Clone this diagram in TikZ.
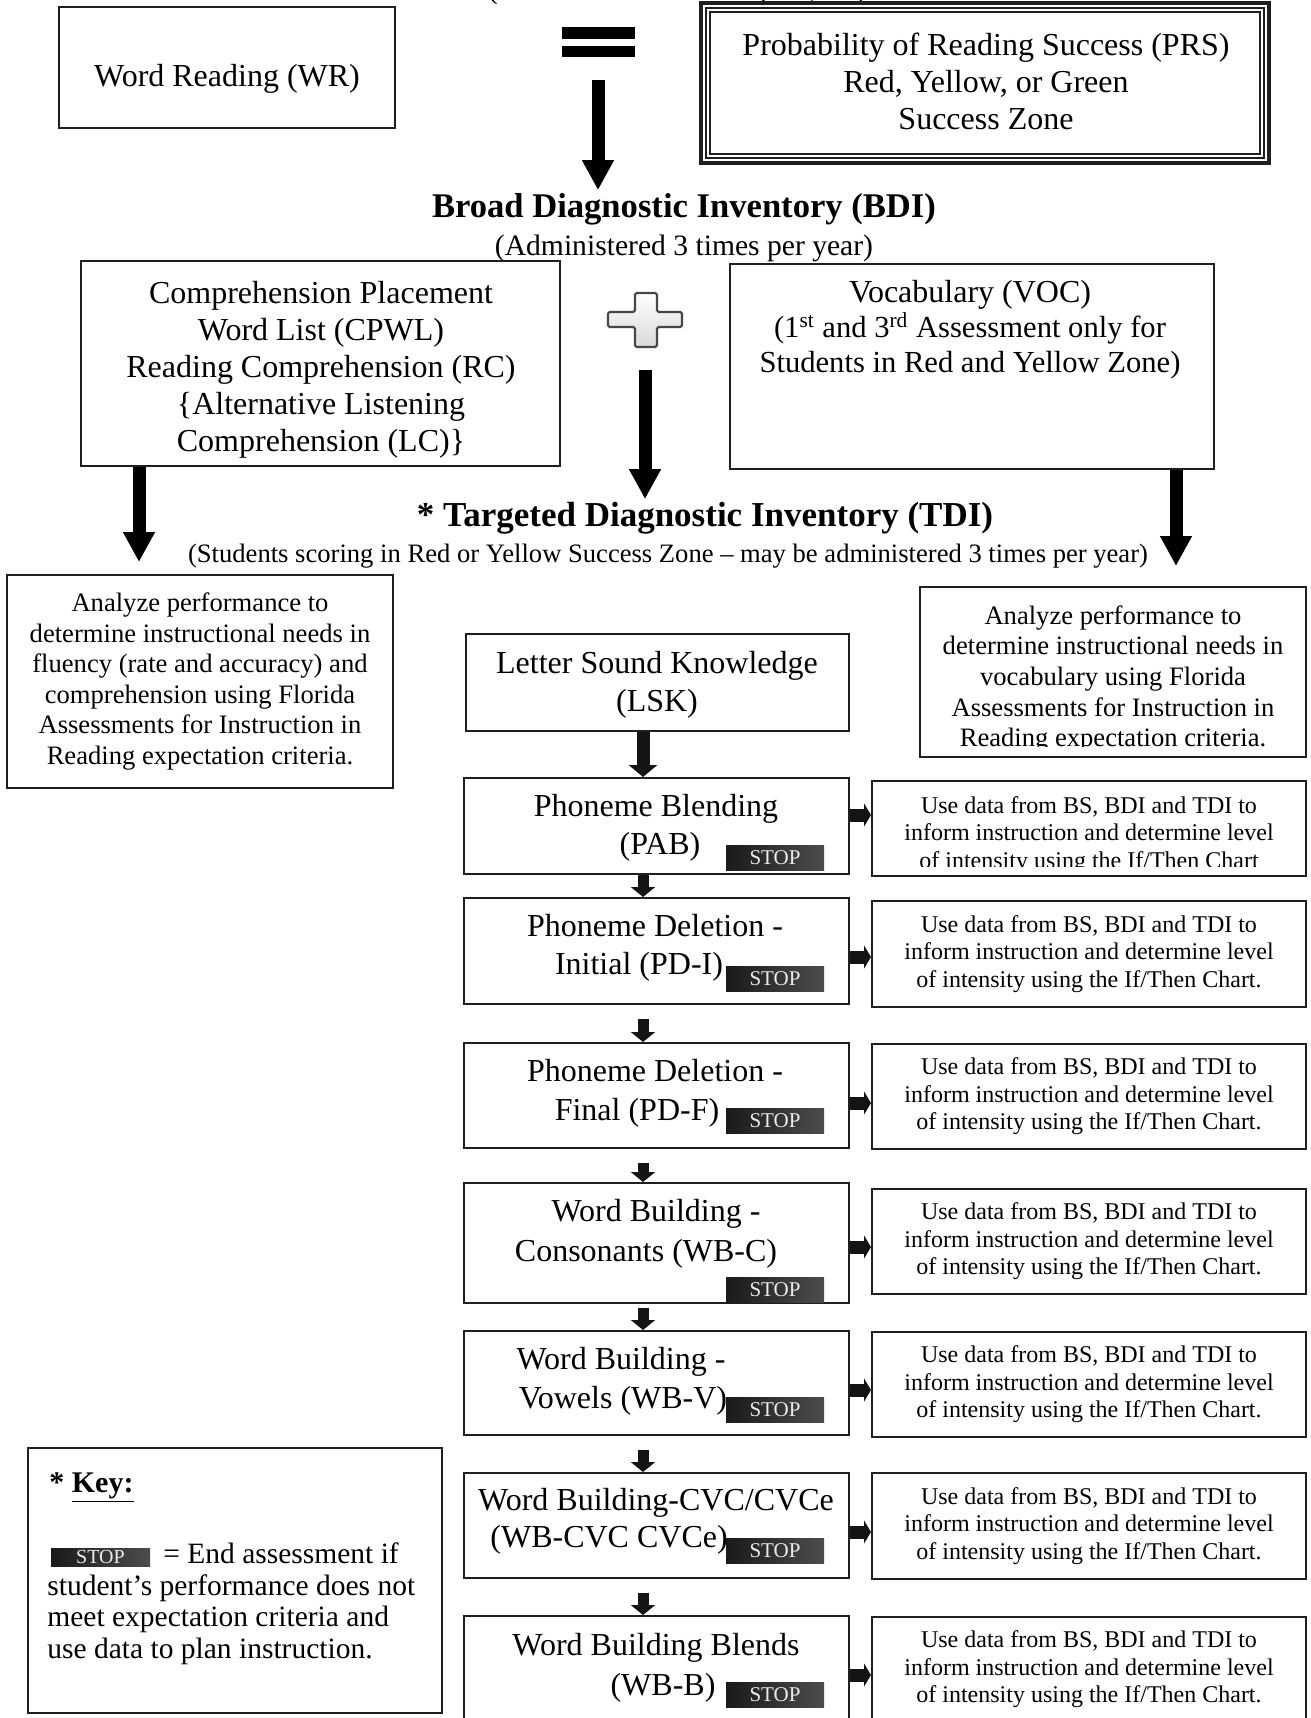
\documentclass[tikz,border=0pt]{standalone}
\usepackage{fontspec}
\setmainfont{Liberation Serif}
\usetikzlibrary{arrows.meta,calc}

\newcommand\usedata{Use data from BS, BDI and TDI to\\inform instruction and determine level\\of intensity using the If/Then Chart.}

\begin{document}
\begin{tikzpicture}[x=0.5pt,y=-0.5pt,
  frame/.style={draw=black!88, line width=1pt, inner sep=0pt, fill=white},
  txt/.style={inner sep=0pt, text height=.95em, text depth=0pt},
  mainfont/.style={font=\fontsize{16}{18.5}\selectfont},
  sidefont/.style={font=\fontsize{12}{13.7}\selectfont},
  anafont/.style={font=\fontsize{13.3}{15.3}\selectfont},
  stopbox/.style={inner sep=0pt, minimum width=49pt, minimum height=12.5pt,
    left color=black!90, right color=black!70, text=white!92!black,
    font=\fontsize{10.5}{11}\selectfont},
  stepbox/.style={frame, minimum width=192.5pt},
  sidebox/.style={frame, minimum width=217pt, align=center, sidefont},
  bigarrow/.style={draw=black, line width=6.5pt, -{Triangle[width=15pt,length=15pt]}},
  smallarrow/.style={draw=black!92, line width=5.5pt, -{Triangle[width=12pt,length=5pt]}},
  harrow/.style={draw=black!92, line width=6.5pt, -{Triangle[width=11.5pt,length=3.5pt]}},
]
\fill[white] (0,0) rectangle (1311,1718);
\useasboundingbox (0,0) rectangle (1311,1718);

% line of the preceding heading, cut by the page edge
\node[anchor=base, inner sep=0pt, font=\fontsize{14.8}{16}\selectfont] (prevsub) at (677,-1) {(Administered 3 times per year)};

% ---------- top row ----------
\node[frame, minimum width=168pt, minimum height=60.5pt] (wr) at (227,67.5) {};
\node[txt, mainfont] (wrtext) at (227,77) {Word Reading (WR)};

% equals sign
\fill[black] (562,27) rectangle (635,39);
\fill[black] (562,46) rectangle (635,57);
\coordinate (eqfoot) at (598,80);

% triple-ruled box
\node[frame, line width=2pt, minimum width=284pt, minimum height=80pt] (prs) at (985,83) {};
\draw[black!88, line width=0.6pt] ($(prs.north west)+(7,7)$) rectangle ($(prs.south east)+(-7,-7)$);
\draw[black!88, line width=0.6pt] ($(prs.north west)+(11,11)$) rectangle ($(prs.south east)+(-11,-11)$);
\node[mainfont, align=center, inner sep=0pt] (prstext) at (986,81.5) {Probability of Reading Success (PRS)\\Red, Yellow, or Green\\Success Zone};

% ---------- BDI ----------
\node[txt, font=\bfseries\fontsize{17.3}{19}\selectfont] (bdi) at (684,208) {Broad Diagnostic Inventory (BDI)};
\node[txt, font=\fontsize{14.8}{16}\selectfont] (bdisub) at (684,246) {(Administered 3 times per year)};
\draw[bigarrow, shorten >=4pt] (eqfoot) -- (eqfoot |- bdi.north);

\node[frame, minimum width=239.5pt, minimum height=102.5pt] (cpwl) at (320.5,363.5) {};
\node[mainfont, align=center, inner sep=0pt] (cpwltext) at (321,370)
  {Comprehension Placement\\Word List (CPWL)\\Reading Comprehension (RC)\\\{Alternative Listening\\Comprehension (LC)\}};

\node[frame, minimum width=242pt, minimum height=102.5pt] (voc) at (972,366.5) {};
\node[align=center, inner sep=0pt, font=\fontsize{15.3}{17.5}\selectfont] (voctext) at (970,330)
  {{\fontsize{16}{17.5}\selectfont Vocabulary (VOC)}\\(1\textsuperscript{st} and 3\textsuperscript{rd} Assessment only for\\Students in Red and Yellow Zone)};

% plus sign
\draw[black!72, line width=1.1pt, rounded corners=0.8pt, top color=white, bottom color=black!15]
  (635,293) -- (657,293) -- (657,312) -- (682,312) -- (682,327) -- (657,327) -- (657,347)
  -- (635,347) -- (635,327) -- (608,327) -- (608,312) -- (635,312) -- cycle;
\node[inner sep=0pt, minimum width=37pt, minimum height=27pt] (plus) at (645,320) {};

% ---------- TDI ----------
\node[txt, font=\bfseries\fontsize{17.5}{19}\selectfont] (tdi) at (705,517) {* Targeted Diagnostic Inventory (TDI)};
\node[txt, font=\fontsize{13.3}{15}\selectfont] (tdisub) at (668,553) {(Students scoring in Red or Yellow Success Zone – may be administered 3 times per year)};
\draw[bigarrow, shorten <=11.5pt, shorten >=4pt] (plus.south) -- (plus.south |- tdi.north);

% analysis boxes
\node[frame, minimum width=193pt, minimum height=106.5pt, align=center, anafont] (ana1) at (200,681.5)
  {Analyze performance to\\determine instructional needs in\\fluency (rate and accuracy) and\\comprehension using Florida\\Assessments for Instruction in\\Reading expectation criteria.};
\node[frame, minimum width=193pt, minimum height=85pt] (ana2) at (1113,672) {};
\begin{scope}
  \clip (921,588) rectangle (1305,746);
  \node[align=center, inner sep=0pt, anafont] (ana2text) at (1113,679)
    {Analyze performance to\\determine instructional needs in\\vocabulary using Florida\\Assessments for Instruction in\\Reading expectation criteria.};
\end{scope}

\draw[bigarrow, shorten >=6pt] ($(cpwl.south west)+(59,0)$) -- ($(ana1.north west)+(133,0)$);
\draw[bigarrow, shorten >=10pt] ($(voc.south west)+(447,0)$) -- ($(ana2.north west)+(257,0)$);

% ---------- TDI task column ----------
\node[stepbox, minimum width=191.5pt, minimum height=48.5pt] (lsk) at (657.5,682.5) {};
\node[stepbox, minimum height=48pt] (pab) at (656.5,826) {};
\node[stepbox, minimum height=53pt] (pdi) at (656.5,951) {};
\node[stepbox, minimum height=52.5pt] (pdf) at (656.5,1095.5) {};
\node[stepbox, minimum height=60pt] (wbc) at (656.5,1243) {};
\node[stepbox, minimum height=52pt] (wbv) at (656.5,1383) {};
\node[stepbox, minimum height=52.5pt] (cvc) at (656.5,1525.5) {};
\node[stepbox, minimum height=53pt] (wbb) at (656.5,1669) {};

\node[txt, mainfont] (lsk1) at (657,664) {Letter Sound Knowledge};
\node[txt, mainfont] (lsk2) at (657,702) {(LSK)};
\node[txt, mainfont] (pab1) at (656,807) {Phoneme Blending};
\node[txt, mainfont] (pab2) at (660,845) {(PAB)};
\node[txt, mainfont] (pdi1) at (655,927) {Phoneme Deletion -};
\node[txt, mainfont] (pdi2) at (639,965) {Initial (PD-I)};
\node[txt, mainfont] (pdf1) at (655,1072) {Phoneme Deletion -};
\node[txt, mainfont] (pdf2) at (637,1111) {Final (PD-F)};
\node[txt, mainfont] (wbc1) at (656,1212) {Word Building -};
\node[txt, mainfont] (wbc2) at (646,1252) {Consonants (WB-C)};
\node[txt, mainfont] (wbv1) at (621,1360) {Word Building -};
\node[txt, mainfont] (wbv2) at (623,1399) {Vowels (WB-V)};
\node[txt, mainfont] (cvc1) at (656,1501) {Word Building-CVC/CVCe};
\node[txt, mainfont, anchor=west] (cvc2) at (490,1538) {(WB-CVC CVCe)};
\node[txt, mainfont] (wbb1) at (656,1646) {Word Building Blends};
\node[txt, mainfont] (wbb2) at (663,1686) {(WB-B)};

\node[stopbox] (stop1) at (775,857.5) {STOP};
\node[stopbox] (stop2) at (775,978.5) {STOP};
\node[stopbox] (stop3) at (775,1121) {STOP};
\node[stopbox] (stop4) at (775,1290) {STOP};
\node[stopbox] (stop5) at (775,1409.5) {STOP};
\node[stopbox] (stop6) at (775,1551) {STOP};
\node[stopbox] (stop7) at (775,1694.5) {STOP};

% side boxes
\node[sidebox, minimum height=47.5pt] (s1) at (1089,828.5) {};
\begin{scope}
  \clip (873,782) rectangle (1305,866);
  \node[align=center, inner sep=0pt, sidefont] (s1text) at (1089,835)
    {Use data from BS, BDI and TDI to\\inform instruction and determine level\\of intensity using the If/Then Chart};
\end{scope}
\node[sidebox, minimum height=53pt] (s2) at (1089,954) {\usedata};
\node[sidebox, minimum height=52.5pt] (s3) at (1089,1096.5) {\usedata};
\node[sidebox, minimum height=52.5pt] (s4) at (1089,1241.5) {\usedata};
\node[sidebox, minimum height=52.5pt] (s5) at (1089,1384.5) {\usedata};
\node[sidebox, minimum height=53pt] (s6) at (1089,1526) {\usedata};
\node[sidebox, minimum height=52.5pt] (s7) at (1089,1669.5) {\usedata};

% connectors in the task column
\draw[smallarrow, line width=6.5pt, -{Triangle[width=14pt,length=6pt]}] ($(lsk.south west)+(178,0)$) -- ($(pab.north west)+(180,0)$);
\draw[smallarrow] ($(pab.south west)+(180,0)$) -- ($(pdi.north west)+(180,0)$);
\draw[smallarrow, shorten <=7pt] ($(pdi.south west)+(180,0)$) -- ($(pdf.north west)+(180,0)$);
\draw[smallarrow, shorten <=7pt] ($(pdf.south west)+(180,0)$) -- ($(wbc.north west)+(180,0)$);
\draw[smallarrow, shorten <=2pt] ($(wbc.south west)+(180,0)$) -- ($(wbv.north west)+(180,0)$);
\draw[smallarrow, shorten <=7pt] ($(wbv.south west)+(180,0)$) -- ($(cvc.north west)+(180,0)$);
\draw[smallarrow, shorten <=7pt] ($(cvc.south west)+(180,0)$) -- ($(wbb.north west)+(180,0)$);

\draw[harrow] (pab.east |- 0,815) -- (s1.west |- 0,815);
\draw[harrow] (pdi.east |- 0,957) -- (s2.west |- 0,957);
\draw[harrow] (pdf.east |- 0,1103) -- (s3.west |- 0,1103);
\draw[harrow] (wbc.east |- 0,1247) -- (s4.west |- 0,1247);
\draw[harrow] (wbv.east |- 0,1390) -- (s5.west |- 0,1390);
\draw[harrow] (cvc.east |- 0,1532) -- (s6.west |- 0,1532);
\draw[harrow] (wbb.east |- 0,1675) -- (s7.west |- 0,1675);

% ---------- key ----------
\node[frame, minimum width=207pt, minimum height=132.5pt] (key) at (235,1580.5) {};
\node[txt, anchor=west, font=\bfseries\fontsize{15}{16}\selectfont] (keyhead) at (49,1483) {* \underline{Key:}};
\node[stopbox, minimum width=49.5pt, minimum height=9pt, font=\fontsize{10}{10}\selectfont] (keystop) at (100.5,1557) {STOP};
\node[txt, anchor=west, font=\fontsize{14.75}{16}\selectfont] (keyeq) at (163,1554) {= End assessment if};
\node[anchor=north west, align=left, inner sep=0pt, font=\fontsize{14.75}{15.75}\selectfont] (keynote) at (47,1574)
  {student’s performance does not\\meet expectation criteria and\\use data to plan instruction.};
\end{tikzpicture}
\end{document}
